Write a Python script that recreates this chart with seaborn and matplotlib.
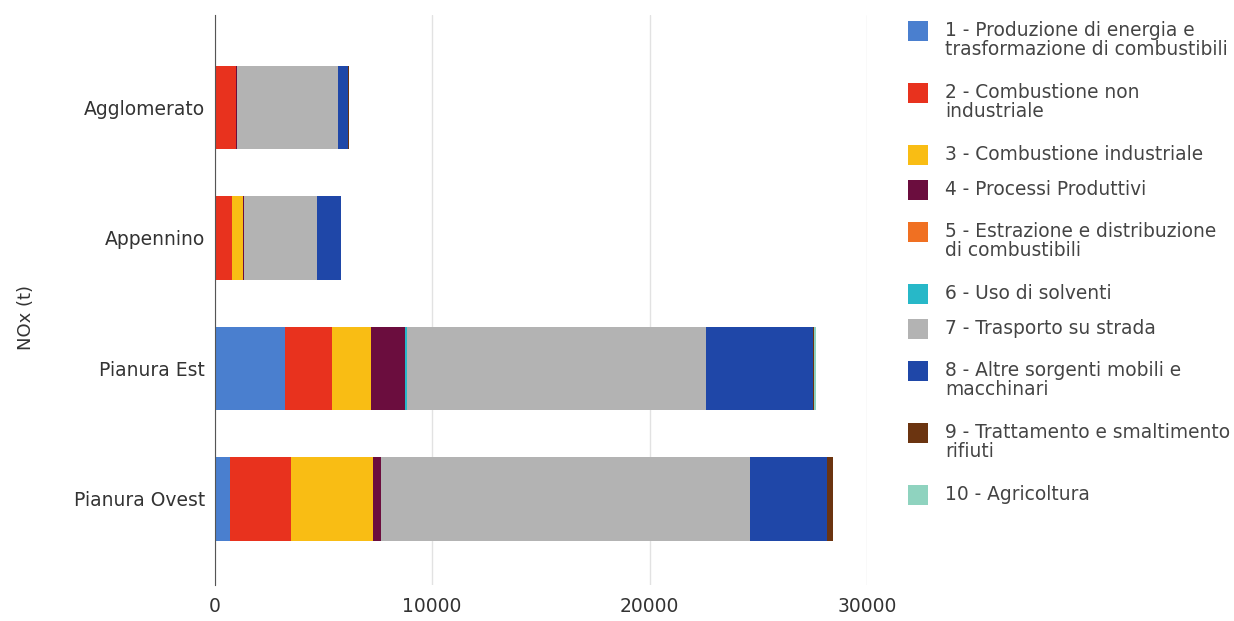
import matplotlib
matplotlib.use("Agg")
import matplotlib.pyplot as plt
from matplotlib.patches import Rectangle
import numpy as np
import pandas as pd
import seaborn as sns

# zone e settori (NOx, tonnellate)
zone = ["Agglomerato", "Appennino", "Pianura Est", "Pianura Ovest"]
settori = [
    "1 - Produzione di energia e\ntrasformazione di combustibili",
    "2 - Combustione non\nindustriale",
    "3 - Combustione industriale",
    "4 - Processi Produttivi",
    "5 - Estrazione e distribuzione\ndi combustibili",
    "6 - Uso di solventi",
    "7 - Trasporto su strada",
    "8 - Altre sorgenti mobili e\nmacchinari",
    "9 - Trattamento e smaltimento\nrifiuti",
    "10 - Agricoltura",
]
colori = ["#4a7fcf", "#e8321e", "#f9bd14", "#6b0d3e", "#f07022",
          "#27b8c8", "#b3b3b3", "#1f47a8", "#6b3410", "#8fd3bf"]

s1 = [20, 0, 3220, 690]
s2 = [950, 780, 2160, 2800]
s3 = [30, 500, 1790, 3770]
s4 = [10, 80, 1560, 370]
s5 = [0, 0, 20, 0]
s6 = [0, 0, 80, 10]
s7 = [4640, 3360, 13750, 16970]
s8 = [460, 1100, 4920, 3540]
s9 = [80, 10, 80, 280]
s10 = [0, 0, 60, 0]

df = pd.DataFrame([s1, s2, s3, s4, s5, s6, s7, s8, s9, s10], index=settori, columns=zone)
cum = df.cumsum()

sns.set_style("white")
plt.rcParams['font.family'] = ['DejaVu Sans']

fig = plt.figure(figsize=(12.34, 6.21), dpi=100)
ax = fig.add_axes([0.174, 0.058, 0.5286, 0.918])

# barre sovrapposte: dal cumulato piu lungo al piu corto
for i in range(len(settori) - 1, -1, -1):
    d = pd.DataFrame({"zona": zone, "val": cum.iloc[i].values})
    sns.barplot(data=d, x="val", y="zona", color=colori[i], saturation=1,
                width=0.64, ax=ax, orient="h", linewidth=0)

ax.set_xlim(0, 30000)
ax.set_ylim(3.66, -0.71)
ax.set_xticks([0, 10000, 20000, 30000])
ax.set_xticklabels(["0", "10000", "20000", "30000"])
ax.xaxis.grid(True, color="#e2e2e2", linewidth=1)
ax.set_axisbelow(True)
for s in ["top", "right", "bottom"]:
    ax.spines[s].set_visible(False)
ax.spines["left"].set_color("#555555")
ax.tick_params(axis="both", length=0, labelsize=13.5, colors="#333333")
ax.tick_params(axis="y", pad=7)
ax.tick_params(axis="x", pad=9)
ax.set_xlabel("")
ax.set_ylabel("NOx (t)", fontsize=13, color="#333333")
ax.yaxis.set_label_coords(-0.276, 0.47)

# legenda manuale: quadrato allineato alla prima riga del testo
lax = fig.add_axes([0, 0, 1, 1])
lax.set_xlim(0, 1234)
lax.set_ylim(621, 0)
lax.axis("off")
y = 31
prev_lines = None
for c, lab in zip(colori, settori):
    n = lab.count("\n") + 1
    if prev_lines is not None:
        y += 35 if (prev_lines == 1 and n == 1) else 42
    lax.add_patch(Rectangle((908, y - 10), 20, 20, color=c, lw=0))
    lax.text(945, y - 10, lab, fontsize=13.4, color="#444444", va="top",
             ha="left", linespacing=1.0)
    y += 20 * (n - 1)
    prev_lines = n

fig.savefig("out.png", dpi=100)
